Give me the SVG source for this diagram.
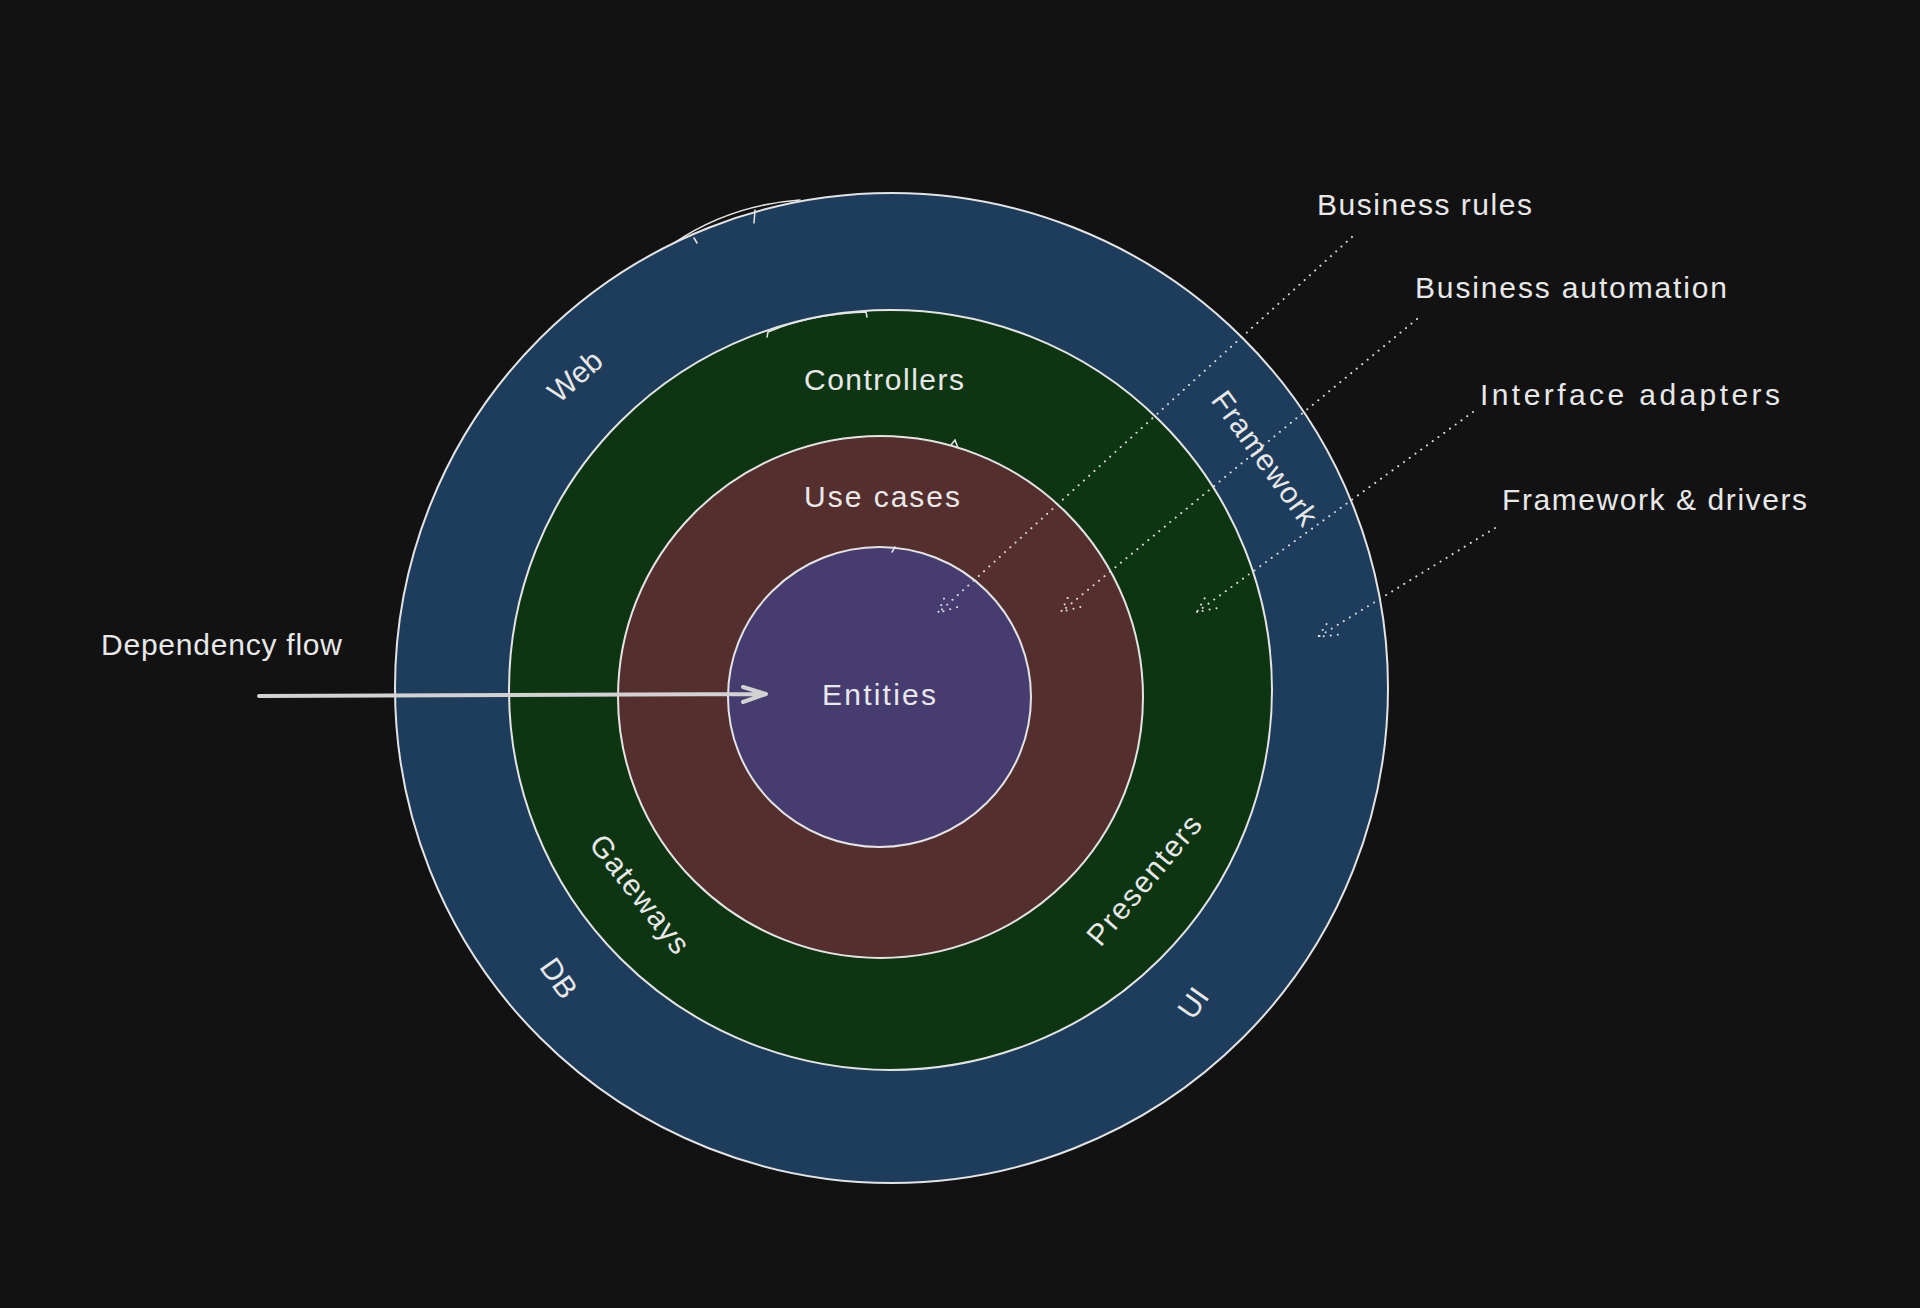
<svg xmlns="http://www.w3.org/2000/svg" width="1920" height="1308" viewBox="0 0 1920 1308">
  <defs>
    <style>
      .ring { stroke: #e4e4e4; stroke-width: 2; }
      .sketch { fill: none; stroke: #e4e4e4; stroke-width: 1.5; stroke-linecap: round; }
      .lbl { font-family: "Liberation Sans", "DejaVu Sans", sans-serif; font-size: 30px; fill: #e8e8e8; }
      .mid { text-anchor: middle; }
      .dot { fill: none; stroke: #dcdcdc; stroke-width: 2; stroke-dasharray: 0.1 7; stroke-linecap: round; stroke-linejoin: round; }
      .flow { fill: none; stroke: #d2d2d2; stroke-width: 4; stroke-linecap: round; stroke-linejoin: round; }
    </style>
  </defs>
  <rect x="0" y="0" width="1920" height="1308" fill="#121212"/>

  <g id="framework-drivers">
    <ellipse class="ring" cx="891.5" cy="688" rx="496.5" ry="495" fill="#1e3d5c"/>
    <path class="sketch" d="M674 243 Q 730 205 800 200 M694 238 L697 243 M755 210 L754 223"/>
    <text class="lbl mid" transform="translate(575 376) rotate(-41)" dominant-baseline="central">Web</text>
    <text class="lbl mid" transform="translate(1265 458) rotate(54)" dominant-baseline="central" textLength="158">Framework</text>
    <text class="lbl mid" transform="translate(559 978) rotate(55)" dominant-baseline="central">DB</text>
    <text class="lbl mid" transform="translate(1193 1003) rotate(-55)" dominant-baseline="central">UI</text>
  </g>

  <g id="interface-adapters">
    <ellipse class="ring" cx="890.5" cy="690" rx="381.5" ry="380" fill="#0e3512"/>
    <path class="sketch" d="M768 332 Q 810 314 866 312 M768 332 L767 337 M866 312 L867 317"/>
    <text class="lbl mid" x="884" y="390" textLength="160">Controllers</text>
    <text class="lbl mid" transform="translate(640 894) rotate(52)" dominant-baseline="central" textLength="142">Gateways</text>
    <text class="lbl mid" transform="translate(1144 880) rotate(-50)" dominant-baseline="central" textLength="160">Presenters</text>
  </g>

  <g id="business-automation">
    <ellipse class="ring" cx="880.5" cy="697" rx="262.5" ry="261" fill="#552e2e"/>
    <path class="sketch" d="M951 445 L955 440 L958 448"/>
    <text class="lbl mid" x="882" y="507" textLength="156">Use cases</text>
  </g>

  <g id="business-rules">
    <ellipse class="ring" cx="879.5" cy="697" rx="151.5" ry="150" fill="#463c70"/>
    <path class="sketch" d="M892 552 L895 547"/>
    <text class="lbl mid" x="879" y="705" textLength="114">Entities</text>
  </g>

  <g id="captions">
    <text class="lbl" x="1317" y="215" textLength="215">Business rules</text>
    <text class="lbl" x="1415" y="298" textLength="312">Business automation</text>
    <text class="lbl" x="1480" y="405" textLength="300">Interface adapters</text>
    <text class="lbl" x="1502" y="510" textLength="305">Framework &amp; drivers</text>
    <text class="lbl" x="101" y="655" textLength="241">Dependency flow</text>
  </g>

  <g id="connectors">
    <path class="flow" d="M259 696 L766 694 M743 687 L766 694 L743 702"/>
    <path class="dot" d="M1352 237 L938 613 M957.1 607.1 L938 613 L945.7 594.5"/>
    <path class="dot" d="M1417 319 L1061 612 M1080.4 607 L1061 612 L1069.6 593.9"/>
    <path class="dot" d="M1473 412 L1197 612 M1216.6 608.2 L1197 612 L1206.7 594.5"/>
    <path class="dot" d="M1495 528 L1318 637 M1337.9 634.7 L1318 637 L1329 620.3"/>
  </g>
</svg>
